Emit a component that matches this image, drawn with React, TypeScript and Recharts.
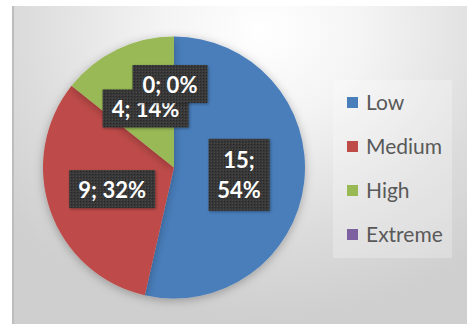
import { Pie, PieChart, Cell, Legend } from "recharts";

// risk levels and their counts
const categories = ["Low", "Medium", "High", "Extreme"];
const counts = [15, 9, 4, 0];
const colors = ["#4a7ebb", "#be4b48", "#98b954", "#7d60a0"];
// labels that Excel wrapped onto two lines
const wrapped = ["Low"];

const data = categories.map((name, i) => ({ name, value: counts[i] }));

const RADIAN = Math.PI / 180;

function SliceLabel(props: any) {
  const { cx, cy, midAngle, outerRadius, percent, value, index } = props;
  const r = outerRadius * 0.5;
  let x = cx + r * Math.cos(-midAngle * RADIAN);
  let y = cy + r * Math.sin(-midAngle * RADIAN);
  // zero slice label gets nudged so it doesn't sit right on top of its neighbour
  if (value === 0) {
    x -= 4;
    y -= 18;
  }
  const pct = `${Math.round(percent * 100)}%`;
  const twoLines = wrapped.includes(categories[index]);
  const lines = twoLines ? [`${value};`, pct] : [`${value}; ${pct}`];
  const longest = Math.max(...lines.map((l) => l.length));
  const w = longest * 11 + (twoLines ? 28 : 20);
  const h = twoLines ? 72 : 38;
  return (
    <g>
      <rect
        x={x - w / 2}
        y={y - h / 2}
        width={w}
        height={h}
        fill="url(#boxPattern)"
        filter="url(#boxShadow)"
      />
      {lines.map((l, i) => (
        <text
          key={i}
          x={x}
          y={y + (i - (lines.length - 1) / 2) * 30}
          textAnchor="middle"
          dominantBaseline="central"
          fill="#ffffff"
          fontFamily="Lato, sans-serif"
          fontWeight={700}
          fontSize={22}
        >
          {l}
        </text>
      ))}
    </g>
  );
}

function LegendBox() {
  return (
    <div
      style={{
        width: 119,
        height: 178,
        background: "rgba(255,255,255,0.25)",
        position: "relative",
      }}
    >
      {categories.map((c, i) => (
        <div
          key={c}
          style={{
            position: "absolute",
            left: 14,
            top: 10 + i * 44,
            display: "flex",
            alignItems: "center",
            fontFamily: "Lato, sans-serif",
            fontSize: 21,
            color: "#595959",
            lineHeight: "24px",
          }}
        >
          <span
            style={{
              display: "inline-block",
              width: 11,
              height: 11,
              background: colors[i],
              marginRight: 8,
            }}
          />
          {c}
        </div>
      ))}
    </div>
  );
}

export default function App() {
  return (
    <div
      style={{
        position: "absolute",
        left: 0,
        top: 0,
        width: 467,
        height: 327,
        background: "#ffffff",
      }}
    >
      <div
        style={{
          position: "absolute",
          left: 12,
          top: 6,
          width: 455,
          height: 318,
          background:
            "radial-gradient(ellipse 75% 90% at 55% 8%, #ffffff 0%, #f4f4f4 30%, #dcdcdc 70%, #cfcfcf 100%)",
          borderLeft: "2px solid #bdbdbd",
          boxSizing: "border-box",
        }}
      >
        <PieChart width={453} height={318} margin={{ top: 0, right: 0, bottom: 0, left: 0 }}>
          <defs>
            <pattern id="boxPattern" width="3" height="3" patternUnits="userSpaceOnUse">
              <rect width="3" height="3" fill="#383838" />
              <rect width="1" height="1" fill="#252525" />
              <rect x="2" y="2" width="1" height="1" fill="#4a4a4a" />
            </pattern>
            <filter id="boxShadow" x="-20%" y="-20%" width="140%" height="140%">
              <feDropShadow dx="1" dy="1" stdDeviation="1.5" floodColor="#000" floodOpacity="0.35" />
            </filter>
            <filter id="pieShadow" x="-10%" y="-10%" width="120%" height="120%">
              <feDropShadow dx="0" dy="2" stdDeviation="5" floodColor="#000" floodOpacity="0.28" />
            </filter>
          </defs>
          <Pie
            data={data}
            dataKey="value"
            nameKey="name"
            cx={160}
            cy={161.5}
            outerRadius={131}
            startAngle={90}
            endAngle={-270}
            stroke="none"
            label={SliceLabel}
            labelLine={false}
            isAnimationActive={false}
            style={{ filter: "url(#pieShadow)" }}
          >
            {data.map((d, i) => (
              <Cell key={d.name} fill={colors[i]} />
            ))}
          </Pie>
          <Legend
            content={() => <LegendBox />}
            wrapperStyle={{ position: "absolute", left: 319, top: 74, width: 119 }}
          />
        </PieChart>
      </div>
    </div>
  );
}
